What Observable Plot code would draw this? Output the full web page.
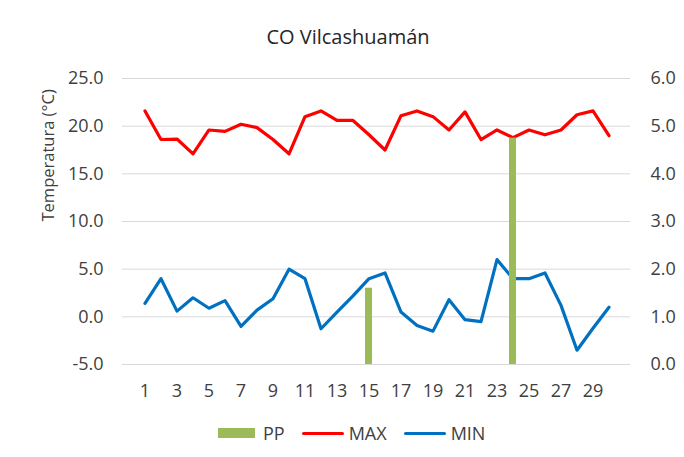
<!DOCTYPE html>
<html>
<head>
<meta charset="utf-8">
<script src="https://cdn.jsdelivr.net/npm/d3@7"></script>
<script src="https://cdn.jsdelivr.net/npm/@observablehq/plot@0.6"></script>
<style>
  html, body { margin: 0; padding: 0; background: #fff; }
  #wrap { position: relative; width: 684px; height: 457px; font-family: "Open Sans", sans-serif; }
  #title { position: absolute; left: 0; top: 23px; width: 684px; padding-left: 12px; box-sizing: border-box; text-align: center; font-size: 20px; line-height: 28px; color: #262626; }
  #chart { position: absolute; left: 0; top: 60px; }
  #legend { position: absolute; left: 218px; top: 421px; height: 24px; display: flex; align-items: center; font-size: 18px; color: #404040; }
  .sw { display: inline-block; }
</style>
</head>
<body>
<div id="wrap">
  <div id="title"></div>
  <div id="chart"></div>
  <div id="legend"></div>
</div>
<script>
const title = "CO Vilcashuamán";
const yTitle = "Temperatura (°C)";
const days = d3.range(1, 31);
const maxT = [21.6, 18.6, 18.65, 17.1, 19.6, 19.45, 20.2, 19.85, 18.6, 17.1, 21.0, 21.6, 20.6, 20.6, 19.1, 17.5, 21.1, 21.6, 21.0, 19.6, 21.5, 18.6, 19.6, 18.8, 19.6, 19.1, 19.6, 21.2, 21.6, 19.0];
const minT = [1.4, 4.0, 0.6, 2.0, 0.9, 1.7, -1.0, 0.7, 1.9, 5.0, 4.0, -1.25, 0.5, 2.2, 4.0, 4.6, 0.5, -0.9, -1.5, 1.8, -0.3, -0.5, 6.0, 4.0, 4.0, 4.6, 1.2, -3.5, -1.2, 1.0];
const pp = [0, 0, 0, 0, 0, 0, 0, 0, 0, 0, 0, 0, 0, 0, 1.6, 0, 0, 0, 0, 0, 0, 0, 0, 4.75, 0, 0, 0, 0, 0, 0];
const leftTicks = [-5, 0, 5, 10, 15, 20, 25];
const rightTicks = [0, 1, 2, 3, 4, 5, 6];
const xTicks = days.filter(d => d % 2 === 1);
const series = [
  {name: "PP", color: "#9bbb59", kind: "bar"},
  {name: "MAX", color: "#ff0000", kind: "line"},
  {name: "MIN", color: "#0070c0", kind: "line"}
];

// secondary axis (PP, 0..6) mapped onto primary (°C, -5..25)
const ppToT = v => -5 + v * 5;

const rows = days.map((d, i) => ({day: d, max: maxT[i], min: minT[i], pp: pp[i]}));

document.getElementById("title").textContent = title;

const plot = Plot.plot({
  width: 684,
  height: 350,
  marginTop: 18,
  marginBottom: 46,
  marginLeft: 122,
  marginRight: 54,
  style: {fontFamily: "Open Sans, sans-serif", fontSize: "18px", color: "#404040", background: "transparent"},
  x: {type: "band", domain: days, paddingInner: 0.58, paddingOuter: 0.29, align: 0.5},
  y: {domain: [-5, 25]},
  marks: [
    Plot.gridY(leftTicks, {stroke: "#d9d9d9", strokeOpacity: 1, strokeWidth: 1}),
    Plot.axisY(leftTicks, {anchor: "left", tickSize: 0, tickPadding: 19, tickFormat: d => d.toFixed(1), label: null}),
    Plot.axisY(rightTicks.map(ppToT), {anchor: "right", tickSize: 0, tickPadding: 20, tickFormat: d => ((d + 5) / 5).toFixed(1), textAnchor: "start", label: null}),
    Plot.axisX(xTicks, {tickSize: 0, tickPadding: 20, label: null}),
    Plot.lineY(rows, {x: "day", y: "min", stroke: series[2].color, strokeWidth: 3.2, strokeLinejoin: "round"}),
    Plot.lineY(rows, {x: "day", y: "max", stroke: series[1].color, strokeWidth: 3.2, strokeLinejoin: "round"}),
    Plot.barY(rows.filter(r => r.pp > 0), {x: "day", y1: ppToT(0), y2: r => ppToT(r.pp), fill: series[0].color}),
    Plot.text([yTitle], {text: d => d, frameAnchor: "left", rotate: -90, dx: -74, fontSize: 16.5, fill: "#404040"})
  ]
});
document.getElementById("chart").appendChild(plot);

// legend
const legend = document.getElementById("legend");
series.forEach((s, i) => {
  const sw = document.createElement("span");
  sw.className = "sw";
  if (s.kind === "bar") {
    sw.style.width = "37px"; sw.style.height = "10px"; sw.style.background = s.color;
    sw.style.marginRight = "8px";
  } else {
    sw.style.width = "42px"; sw.style.height = "3px"; sw.style.background = s.color;
    sw.style.borderRadius = "2px";
    sw.style.marginRight = "5px";
  }
  const lb = document.createElement("span");
  lb.textContent = s.name;
  if (i < series.length - 1) lb.style.marginRight = "17px";
  legend.appendChild(sw);
  legend.appendChild(lb);
});
</script>
</body>
</html>
